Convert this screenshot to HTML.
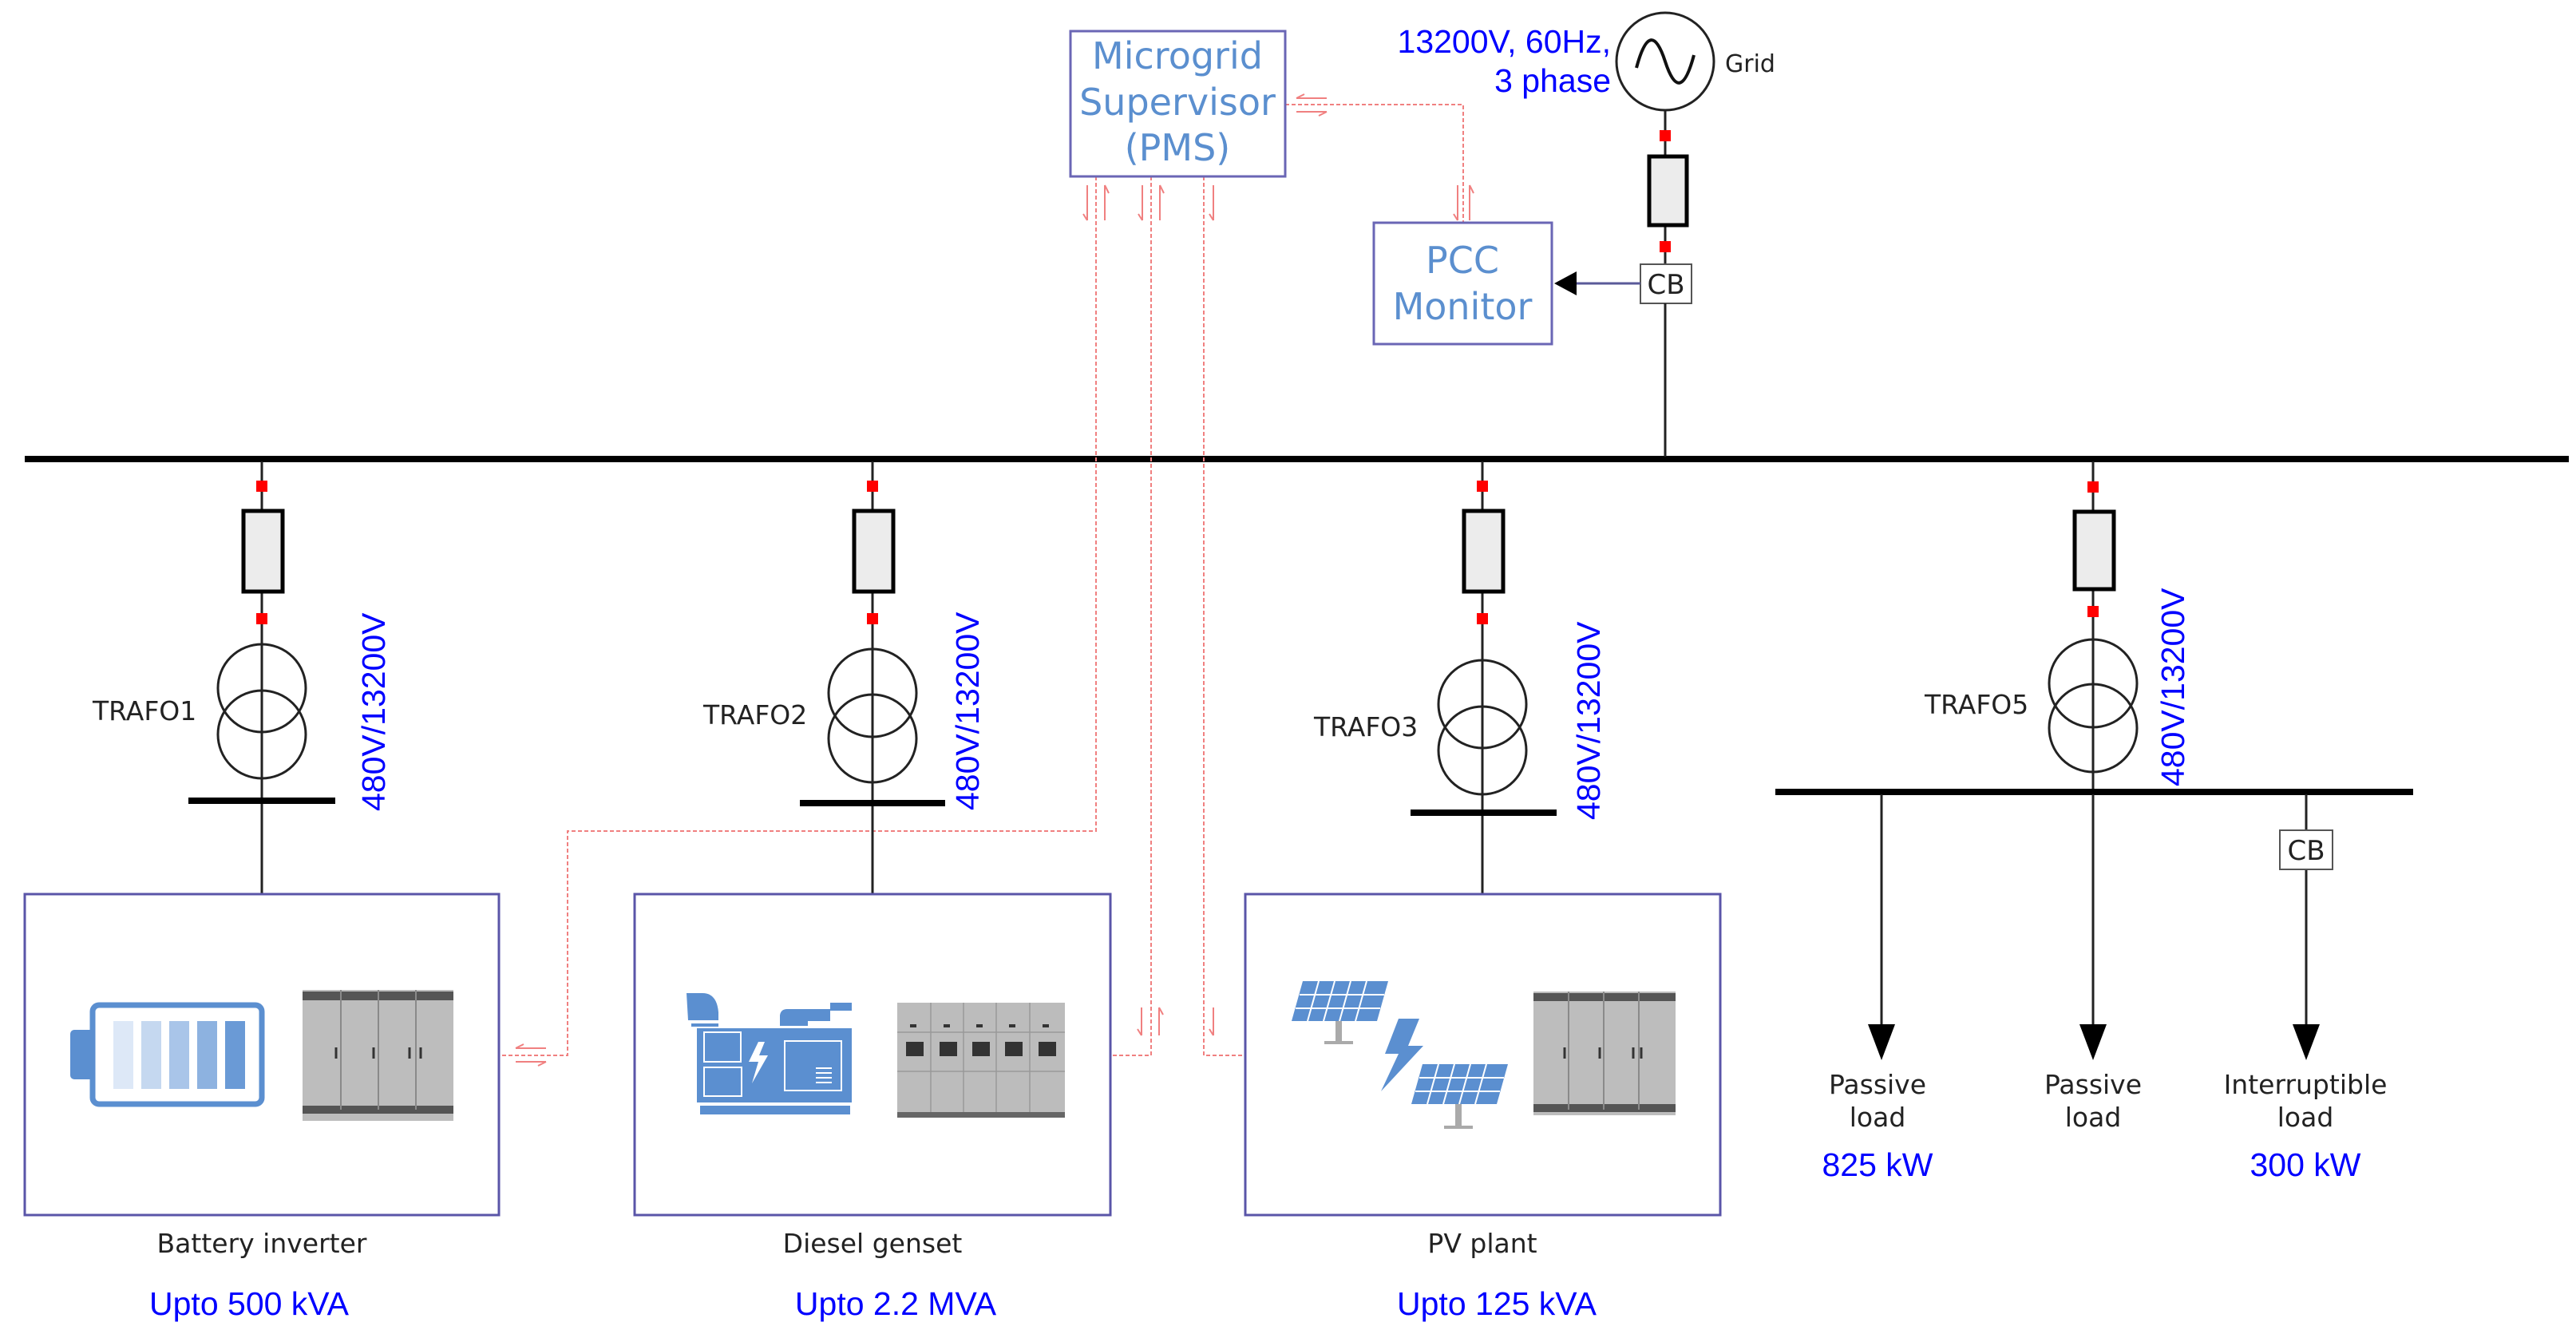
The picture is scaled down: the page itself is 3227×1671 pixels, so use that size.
<!DOCTYPE html>
<html><head><meta charset="utf-8"><style>
html,body{margin:0;padding:0;background:#fff;}
svg{display:block;}
.k{font-family:"DejaVu Sans",sans-serif;font-size:33px;fill:#222;}
.b{font-family:"Liberation Sans",sans-serif;font-size:41px;fill:#0000ff;}
.p{font-family:"DejaVu Sans",sans-serif;font-size:46px;fill:#5b8fcf;}
</style></head><body>
<svg width="3227" height="1671" viewBox="0 0 3227 1671" xmlns="http://www.w3.org/2000/svg">
<rect width="3227" height="1671" fill="#fff"/>
<!-- main bus -->
<rect x="31" y="571" width="3187" height="8" fill="#000"/>

<!-- signal dashed lines -->
<g stroke="#f08080" stroke-width="2" fill="none" stroke-dasharray="5,3">
<polyline points="1610,131 1833,131 1833,279"/>
<polyline points="1373,221 1373,1041 711,1041 711,1322 625,1322"/>
<polyline points="1442,221 1442,1322 1391,1322"/>
<polyline points="1508,221 1508,1322 1560,1322"/>
</g>
<g stroke="#f08080" stroke-width="2" fill="none">
<!-- small arrows near PMS bottom -->
<path d="M1362,232 V276 M1357,268 L1362,276"/><path d="M1384,276 V232 M1384,232 L1389,242"/>
<path d="M1431,232 V276 M1426,268 L1431,276"/><path d="M1453,276 V232 M1453,232 L1458,242"/>
<path d="M1520,232 V276 M1515,268 L1520,276"/>
<!-- near PCC -->
<path d="M1826,232 V276 M1821,268 L1826,276"/><path d="M1841,276 V232 M1841,232 L1846,242"/>
<!-- near PMS right -->
<path d="M1624,123 H1662 M1624,123 L1634,118"/><path d="M1624,140 H1662 M1662,140 L1652,145"/>
<!-- near box1 -->
<path d="M646,1313 H684 M646,1313 L656,1308"/><path d="M646,1330 H684 M684,1330 L674,1335"/>
<!-- near box2 / box3 -->
<path d="M1430,1262 V1297 M1425,1289 L1430,1297"/><path d="M1452,1297 V1262 M1452,1262 L1457,1271"/>
<path d="M1520,1262 V1297 M1515,1289 L1520,1297"/>
</g>

<!-- PMS -->
<rect x="1341" y="39" width="269" height="182" fill="#fff" stroke="#6a66b5" stroke-width="3"/>
<text class="p" x="1475" y="86" text-anchor="middle">Microgrid</text>
<text class="p" x="1475" y="144" text-anchor="middle">Supervisor</text>
<text class="p" x="1475" y="201" text-anchor="middle">(PMS)</text>
<!-- PCC -->
<rect x="1721" y="279" width="223" height="152" fill="#fff" stroke="#6a66b5" stroke-width="3"/>
<text class="p" x="1832" y="342" text-anchor="middle">PCC</text>
<text class="p" x="1832" y="400" text-anchor="middle">Monitor</text>

<!-- grid source -->
<circle cx="2086" cy="77" r="61" fill="#fff" stroke="#222" stroke-width="3"/>
<path d="M2050,85 C2062,40 2074,40 2086,77 C2098,114 2110,114 2122,69" stroke="#111" stroke-width="4" fill="none"/>
<text class="k" x="2161" y="90" style="font-size:30px">Grid</text>
<text class="b" x="2018" y="66" text-anchor="end">13200V, 60Hz,</text>
<text class="b" x="2018" y="115" text-anchor="end">3 phase</text>
<line x1="2086" y1="138" x2="2086" y2="331" stroke="#222" stroke-width="3"/>
<rect x="2079" y="163" width="14" height="14" fill="#f00"/>
<rect x="2066" y="196" width="47" height="86" fill="#ececec" stroke="#000" stroke-width="5"/>
<rect x="2079" y="302" width="14" height="14" fill="#f00"/>
<rect x="2055" y="331" width="64" height="49" fill="#fff" stroke="#555" stroke-width="2"/>
<text class="k" x="2087" y="368" text-anchor="middle" style="font-size:34px">CB</text>
<line x1="2086" y1="380" x2="2086" y2="572" stroke="#222" stroke-width="3"/>
<line x1="1970" y1="355" x2="2055" y2="355" stroke="#5a5a99" stroke-width="3"/>
<polygon points="1947,355 1975,340 1975,370" fill="#000"/>

<!-- feeders generic -->
<g stroke="#222" stroke-width="3" fill="none">
<line x1="328" y1="578" x2="328" y2="1120"/>
<line x1="1093" y1="578" x2="1093" y2="1120"/>
<line x1="1857" y1="578" x2="1857" y2="1120"/>
<line x1="2622" y1="578" x2="2622" y2="992"/>
<circle cx="328" cy="862" r="55"/><circle cx="328" cy="920" r="55"/>
<circle cx="1093" cy="868" r="55"/><circle cx="1093" cy="925" r="55"/>
<circle cx="1857" cy="882" r="55"/><circle cx="1857" cy="940" r="55"/>
<circle cx="2622" cy="856" r="55"/><circle cx="2622" cy="912" r="55"/>
</g>
<g fill="#ececec" stroke="#000" stroke-width="5">
<rect x="305" y="640" width="49" height="101"/>
<rect x="1070" y="640" width="49" height="101"/>
<rect x="1834" y="640" width="49" height="101"/>
<rect x="2599" y="641" width="49" height="97"/>
</g>
<!-- hide lines within circles overlapping? keep -->
<g fill="#f00">
<rect x="321" y="602" width="14" height="14"/><rect x="321" y="768" width="14" height="14"/>
<rect x="1086" y="602" width="14" height="14"/><rect x="1086" y="768" width="14" height="14"/>
<rect x="1850" y="602" width="14" height="14"/><rect x="1850" y="768" width="14" height="14"/>
<rect x="2615" y="603" width="14" height="14"/><rect x="2615" y="759" width="14" height="14"/>
</g>
<!-- short buses -->
<rect x="236" y="999" width="184" height="8" fill="#000"/>
<rect x="1002" y="1002" width="182" height="8" fill="#000"/>
<rect x="1767" y="1014" width="183" height="8" fill="#000"/>
<rect x="2224" y="988" width="799" height="8" fill="#000"/>

<text class="k" x="116" y="902">TRAFO1</text>
<text class="k" x="881" y="907">TRAFO2</text>
<text class="k" x="1646" y="922">TRAFO3</text>
<text class="k" x="2411" y="894">TRAFO5</text>
<text class="b" transform="translate(482,1016) rotate(-90)">480V/13200V</text>
<text class="b" transform="translate(1226,1015) rotate(-90)">480V/13200V</text>
<text class="b" transform="translate(2004,1027) rotate(-90)">480V/13200V</text>
<text class="b" transform="translate(2736,985) rotate(-90)">480V/13200V</text>

<!-- boxes -->
<g fill="none" stroke="#5a55a8" stroke-width="3">
<rect x="31" y="1120" width="594" height="402"/>
<rect x="795" y="1120" width="596" height="402"/>
<rect x="1560" y="1120" width="595" height="402"/>
</g>
<text class="k" x="328" y="1569" text-anchor="middle">Battery inverter</text>
<text class="k" x="1093" y="1569" text-anchor="middle">Diesel genset</text>
<text class="k" x="1857" y="1569" text-anchor="middle">PV plant</text>
<text class="b" x="312" y="1647" text-anchor="middle">Upto 500 kVA</text>
<text class="b" x="1122" y="1647" text-anchor="middle">Upto 2.2 MVA</text>
<text class="b" x="1875" y="1647" text-anchor="middle">Upto 125 kVA</text>

<!-- battery icon -->
<rect x="88" y="1290" width="30" height="62" rx="5" fill="#5b8fd0"/>
<rect x="116" y="1259" width="212" height="124" rx="8" fill="#fff" stroke="#5b8fd0" stroke-width="7"/>
<rect x="142" y="1279" width="25" height="85" fill="#dde8f7"/>
<rect x="177" y="1279" width="25" height="85" fill="#c5d8f0"/>
<rect x="212" y="1279" width="25" height="85" fill="#a9c5e9"/>
<rect x="247" y="1279" width="25" height="85" fill="#8db2e0"/>
<rect x="282" y="1279" width="25" height="85" fill="#6a9ad6"/>
<!-- cabinet 1 -->
<g>
<rect x="379" y="1240" width="189" height="164" fill="#bdbdbd"/>
<rect x="379" y="1242" width="189" height="11" fill="#555"/>
<rect x="379" y="1385" width="189" height="10" fill="#555"/>
<g stroke="#8a8a8a" stroke-width="2"><line x1="427" y1="1240" x2="427" y2="1390"/><line x1="474" y1="1240" x2="474" y2="1390"/><line x1="521" y1="1240" x2="521" y2="1390"/></g>
<g stroke="#333" stroke-width="3"><line x1="421" y1="1312" x2="421" y2="1326"/><line x1="468" y1="1312" x2="468" y2="1326"/><line x1="513" y1="1312" x2="513" y2="1326"/><line x1="527" y1="1312" x2="527" y2="1326"/></g>
</g>
<!-- genset -->
<g fill="#5b8fd0">
<path d="M860,1244 H880 Q898,1244 900,1268 V1278 H862 Z"/>
<rect x="866" y="1282" width="34" height="4"/>
<path d="M977,1285 V1272 Q978,1264 986,1264 H1040 V1256 H1067 V1266 H1040 V1279 H1012 V1285 Z"/>
<rect x="873" y="1288" width="194" height="93"/>
<rect x="877" y="1385" width="188" height="11"/>
</g>
<g fill="none" stroke="#fff" stroke-width="2">
<rect x="882" y="1293" width="46" height="37"/><rect x="882" y="1337" width="47" height="36"/>
<rect x="983" y="1304" width="71" height="62"/>
<path d="M1022,1338 h20 M1022,1344 h20 M1022,1350 h20 M1022,1356 h20"/>
</g>
<polygon points="950,1305 938,1330 950,1330 942,1357 962,1322 951,1322 958,1305" fill="#fff"/>
<!-- switchgear -->
<rect x="1124" y="1256" width="210" height="140" fill="#bcbcbc"/>
<rect x="1124" y="1393" width="210" height="7" fill="#666"/>
<g stroke="#999" stroke-width="1.5">
<line x1="1166" y1="1256" x2="1166" y2="1393"/><line x1="1207" y1="1256" x2="1207" y2="1393"/><line x1="1248" y1="1256" x2="1248" y2="1393"/><line x1="1290" y1="1256" x2="1290" y2="1393"/>
<line x1="1124" y1="1293" x2="1334" y2="1293"/><line x1="1124" y1="1342" x2="1334" y2="1342"/>
</g>
<g fill="#333">
<rect x="1135" y="1305" width="22" height="18"/><rect x="1177" y="1305" width="22" height="18"/><rect x="1218" y="1305" width="22" height="18"/><rect x="1259" y="1305" width="22" height="18"/><rect x="1301" y="1305" width="22" height="18"/>
<rect x="1140" y="1283" width="8" height="4"/><rect x="1182" y="1283" width="8" height="4"/><rect x="1223" y="1283" width="8" height="4"/><rect x="1264" y="1283" width="8" height="4"/><rect x="1306" y="1283" width="8" height="4"/>
</g>
<!-- PV panels -->
<g fill="#5b8fd0">
<polygon points="1632,1229 1739,1229 1725,1279 1618,1279"/>
<polygon points="1782,1333 1889,1333 1875,1383 1768,1383"/>
<polygon points="1752,1276 1735,1320 1752,1320 1730,1367 1783,1310 1764,1310 1778,1276"/>
</g>
<g stroke="#fff" stroke-width="2">
<line x1="1628" y1="1246" x2="1734" y2="1246"/><line x1="1623" y1="1263" x2="1729" y2="1263"/>
<line x1="1778" y1="1350" x2="1884" y2="1350"/><line x1="1773" y1="1367" x2="1879" y2="1367"/>
<line x1="1652" y1="1229" x2="1638" y2="1279"/><line x1="1672" y1="1229" x2="1658" y2="1279"/><line x1="1692" y1="1229" x2="1678" y2="1279"/><line x1="1712" y1="1229" x2="1698" y2="1279"/>
<line x1="1802" y1="1333" x2="1788" y2="1383"/><line x1="1822" y1="1333" x2="1808" y2="1383"/><line x1="1842" y1="1333" x2="1828" y2="1383"/><line x1="1862" y1="1333" x2="1848" y2="1383"/>
</g>
<g fill="#aaa"><rect x="1673" y="1279" width="8" height="26"/><rect x="1659" y="1304" width="36" height="4"/><rect x="1823" y="1383" width="8" height="28"/><rect x="1809" y="1410" width="36" height="4"/></g>
<!-- cabinet 3 -->
<rect x="1921" y="1242" width="178" height="155" fill="#bdbdbd"/>
<rect x="1921" y="1244" width="178" height="10" fill="#555"/>
<rect x="1921" y="1383" width="178" height="10" fill="#555"/>
<g stroke="#8a8a8a" stroke-width="2"><line x1="1965" y1="1242" x2="1965" y2="1390"/><line x1="2009" y1="1242" x2="2009" y2="1390"/><line x1="2053" y1="1242" x2="2053" y2="1390"/></g>
<g stroke="#333" stroke-width="3"><line x1="1960" y1="1312" x2="1960" y2="1326"/><line x1="2004" y1="1312" x2="2004" y2="1326"/><line x1="2046" y1="1312" x2="2046" y2="1326"/><line x1="2056" y1="1312" x2="2056" y2="1326"/></g>

<!-- loads -->
<g stroke="#222" stroke-width="3">
<line x1="2357" y1="995" x2="2357" y2="1290"/>
<line x1="2622" y1="995" x2="2622" y2="1290"/>
<line x1="2889" y1="995" x2="2889" y2="1040"/>
<line x1="2889" y1="1089" x2="2889" y2="1290"/>
</g>
<g fill="#000">
<polygon points="2357,1328 2340,1283 2374,1283"/>
<polygon points="2622,1328 2605,1283 2639,1283"/>
<polygon points="2889,1328 2872,1283 2906,1283"/>
</g>
<rect x="2856" y="1040" width="66" height="49" fill="#fff" stroke="#555" stroke-width="2"/>
<text class="k" x="2889" y="1077" text-anchor="middle" style="font-size:34px">CB</text>
<text class="k" x="2352" y="1370" text-anchor="middle">Passive</text>
<text class="k" x="2352" y="1411" text-anchor="middle">load</text>
<text class="k" x="2622" y="1370" text-anchor="middle">Passive</text>
<text class="k" x="2622" y="1411" text-anchor="middle">load</text>
<text class="k" x="2888" y="1370" text-anchor="middle">Interruptible</text>
<text class="k" x="2888" y="1411" text-anchor="middle">load</text>
<text class="b" x="2352" y="1473" text-anchor="middle">825 kW</text>
<text class="b" x="2888" y="1473" text-anchor="middle">300 kW</text>
</svg>
</body></html>
